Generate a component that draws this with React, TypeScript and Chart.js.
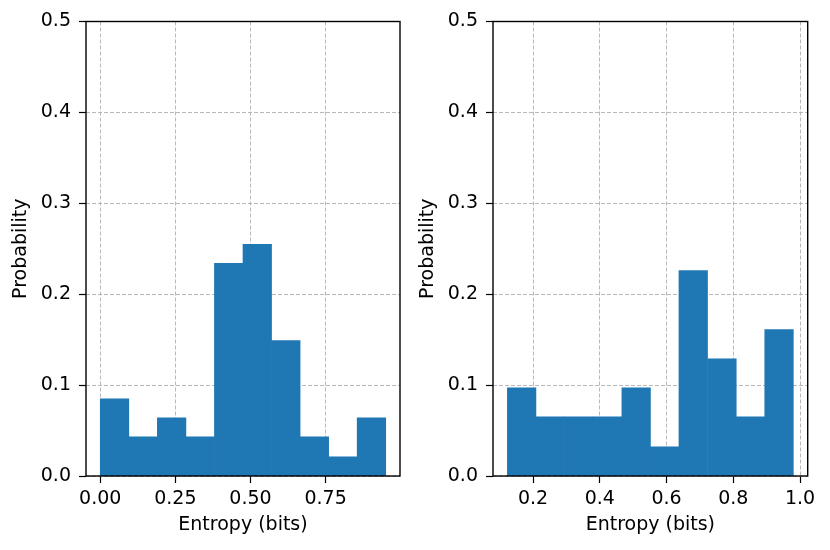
import { useEffect, useRef } from 'react';
import { Chart, registerables } from 'chart.js';

Chart.register(...registerables);

// Left histogram: bin edges and probability per bin
const LEFT_EDGES = [0.0, 0.095, 0.19, 0.285, 0.38, 0.475, 0.57, 0.665, 0.76, 0.855, 0.95];
const LEFT_PROBS = [0.085, 0.043, 0.064, 0.043, 0.234, 0.255, 0.149, 0.043, 0.021, 0.064];
const LEFT_X_TICKS = [0.0, 0.25, 0.5, 0.75];

// Right histogram
const RIGHT_EDGES = [0.123, 0.209, 0.294, 0.38, 0.466, 0.552, 0.637, 0.723, 0.809, 0.894, 0.98];
const RIGHT_PROBS = [0.097, 0.065, 0.065, 0.065, 0.097, 0.032, 0.226, 0.129, 0.065, 0.161];
const RIGHT_X_TICKS = [0.2, 0.4, 0.6, 0.8, 1.0];

const Y_TICKS = [0.0, 0.1, 0.2, 0.3, 0.4, 0.5];

const BAR_COLOR = '#1f77b4';
const GRID_COLOR = '#b0b0b0';
const FONT = { family: '"DejaVu Sans", sans-serif', size: 19 };

// matplotlib-like box around the plot area
const framePlugin = {
  id: 'frame',
  afterDraw(chart: Chart) {
    const { ctx, chartArea } = chart;
    ctx.save();
    ctx.strokeStyle = '#000';
    ctx.lineWidth = 1.4;
    ctx.strokeRect(chartArea.left, chartArea.top, chartArea.right - chartArea.left, chartArea.bottom - chartArea.top);
    ctx.restore();
  },
};

interface HistProps {
  edges: number[];
  probs: number[];
  xTicks: number[];
  decimals: number;
  left: number;
  width: number;
  padRight: number;
}

function Histogram({ edges, probs, xTicks, decimals, left, width, padRight }: HistProps) {
  const canvasRef = useRef<HTMLCanvasElement>(null);

  useEffect(() => {
    if (!canvasRef.current) return;
    const span = edges[edges.length - 1] - edges[0];
    const xMin = edges[0] - span * 0.05;
    const xMax = edges[edges.length - 1] + span * 0.05;
    const points = probs.map((p, i) => ({ x: (edges[i] + edges[i + 1]) / 2, y: p }));

    const chart = new Chart(canvasRef.current, {
      type: 'bar',
      data: {
        datasets: [{
          data: points,
          backgroundColor: BAR_COLOR,
          borderWidth: 0,
          barPercentage: 1,
          categoryPercentage: 1,
        }],
      },
      options: {
        animation: false,
        responsive: true,
        maintainAspectRatio: false,
        layout: { padding: { left: 0, right: padRight, top: 21.5, bottom: 0 } },
        plugins: { legend: { display: false }, tooltip: { enabled: false } },
        scales: {
          x: {
            type: 'linear',
            offset: false,
            min: xMin,
            max: xMax,
            z: 1,
            afterBuildTicks: (scale: any) => {
              scale.ticks = xTicks.map((v) => ({ value: v }));
            },
            afterFit: (scale: any) => {
              scale.height = 74;
            },
            ticks: {
              color: '#000',
              font: FONT,
              padding: 5,
              maxRotation: 0,
              callback: (v: any) => Number(v).toFixed(decimals),
            },
            grid: { offset: false, color: GRID_COLOR, lineWidth: 0.9, tickColor: '#000', tickLength: 7, tickWidth: 1.2 },
            border: { display: false, dash: [4, 2] },
            title: { display: true, text: 'Entropy (bits)', color: '#000', font: FONT, padding: { top: 0, bottom: 14 } },
          },
          y: {
            min: 0,
            max: 0.5,
            z: 1,
            afterBuildTicks: (scale: any) => {
              scale.ticks = Y_TICKS.map((v) => ({ value: v }));
            },
            afterFit: (scale: any) => {
              scale.width = 86;
            },
            ticks: {
              color: '#000',
              font: FONT,
              padding: 8,
              callback: (v: any) => Number(v).toFixed(1),
            },
            grid: { color: GRID_COLOR, lineWidth: 0.9, tickColor: '#000', tickLength: 7, tickWidth: 1.2 },
            border: { display: false, dash: [4, 2] },
            title: { display: true, text: 'Probability', color: '#000', font: FONT, padding: { top: 10, bottom: 0 } },
          },
        },
      },
      plugins: [framePlugin],
    });

    return () => chart.destroy();
  }, [edges, probs, xTicks, decimals, padRight]);

  return (
    <div style={{ position: 'absolute', left, top: 0, width, height: 550 }}>
      <canvas ref={canvasRef} />
    </div>
  );
}

export default function App() {
  return (
    <div style={{ position: 'absolute', left: 0, top: 0, width: 830, height: 550, background: '#fff' }}>
      <Histogram edges={LEFT_EDGES} probs={LEFT_PROBS} xTicks={LEFT_X_TICKS} decimals={2} left={0} width={415} padRight={15} />
      <Histogram edges={RIGHT_EDGES} probs={RIGHT_PROBS} xTicks={RIGHT_X_TICKS} decimals={1} left={407} width={423} padRight={22.3} />
    </div>
  );
}
